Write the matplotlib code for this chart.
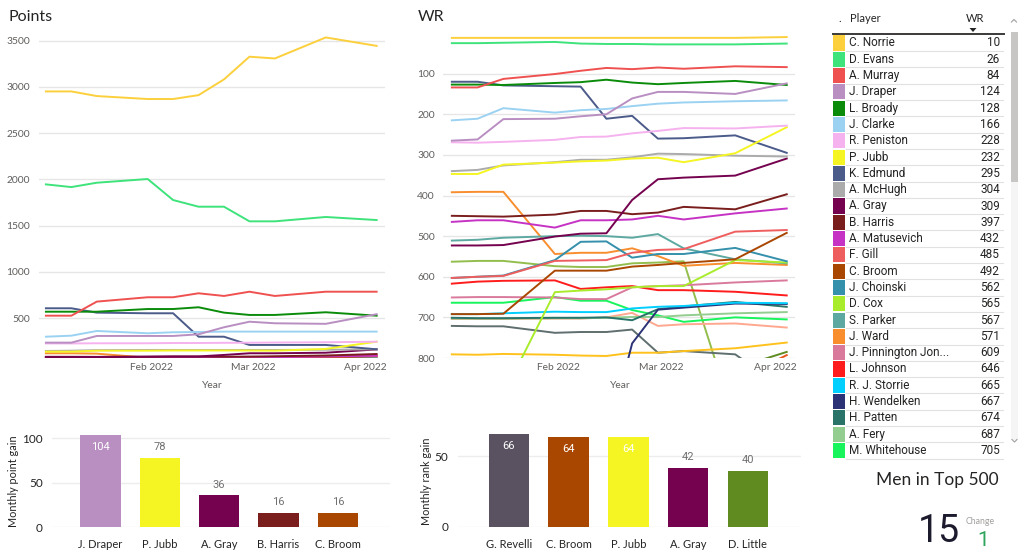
import matplotlib
matplotlib.use("Agg")
import matplotlib.pyplot as plt
import matplotlib.dates as mdates
from matplotlib.patches import Rectangle, Polygon
from matplotlib.ticker import MultipleLocator
import numpy as np
import pandas as pd

W, H = 1024, 559

# ranking release dates (Mondays, frozen weeks skipped)
dates = pd.to_datetime([
    "2022-01-03", "2022-01-10", "2022-01-17", "2022-01-31", "2022-02-07", "2022-02-14",
    "2022-02-21", "2022-02-28", "2022-03-07", "2022-03-21", "2022-04-04",
])

players = [
    "C. Norrie", "D. Evans", "A. Murray", "J. Draper", "L. Broady", "J. Clarke",
    "R. Peniston", "P. Jubb", "K. Edmund", "A. McHugh", "A. Gray", "B. Harris",
    "A. Matusevich", "F. Gill", "C. Broom", "J. Choinski", "D. Cox", "S. Parker",
    "J. Ward", "J. Pinnington Jones", "L. Johnson", "R. J. Storrie", "H. Wendelken",
    "H. Patten", "A. Fery", "M. Whitehouse",
]

player_colors = [
    "#FCD03C", "#3EE37B", "#EF5150", "#B98FC2", "#0A8C0A", "#9BD2F2",
    "#F5B2EE", "#F5F523", "#4B5B8A", "#ABABAB", "#75024E", "#7A1D1D",
    "#C633C4", "#EF5E5E", "#A94600", "#3590AB", "#A9EC2C", "#5DA9A1",
    "#F88E2E", "#D97A9D", "#FF1C1C", "#00CFFF", "#2C3276",
    "#2A7369", "#93CD90", "#18F55C",
]

wr_ranks = [
    [12, 12, 12, 12, 12, 12, 12, 12, 12, 12, 10],
    [25, 25, 24, 22, 26, 27, 27, 28, 28, 28, 26],
    [134, 134, 113, 101, 93, 86, 89, 85, 88, 82, 84],
    [265, 262, 212, 211, 205, 200, 161, 145, 145, 150, 124],
    [127, 127, 128, 123, 121, 115, 122, 126, 123, 118, 128],
    [215, 211, 185, 196, 190, 187, 180, 174, 171, 168, 166],
    [269, 270, 268, 263, 256, 255, 247, 241, 234, 235, 228],
    [347, 347, 324, 319, 316, 314, 309, 307, 318, 296, 232],
    [120, 120, 129, 131, 132, 211, 204, 260, 259, 252, 295],
    [340, 337, 326, 318, 312, 312, 306, 297, 298, 302, 304],
    [523, 523, 522, 501, 494, 493, 411, 360, 356, 351, 309],
    [450, 451, 452, 447, 438, 438, 446, 442, 428, 434, 397],
    [465, 461, 461, 479, 461, 461, 459, 450, 459, 444, 432],
    [603, 600, 598, 561, 560, 559, 541, 534, 532, 489, 485],
    [692, 692, 691, 585, 585, 585, 575, 571, 566, 557, 492],
    [603, 600, 597, 559, 514, 513, 553, 544, 544, 529, 562],
    [890, 890, 890, 638, 634, 631, 626, 623, 623, 559, 565],
    [511, 509, 504, 500, 499, 500, 504, 495, 530, 557, 567],
    [392, 391, 391, 544, 541, 541, 530, 549, 573, 566, 571],
    [651, 650, 650, 651, 655, 655, 626, 623, 621, 614, 609],
    [617, 612, 610, 609, 630, 626, 623, 633, 633, 637, 646],
    [692, 692, 690, 686, 687, 687, 678, 674, 672, 664, 665],
    [1010, 1010, 1010, 1010, 1010, 1010, 764, 681, 676, 666, 667],
    [701, 702, 702, 701, 701, 700, 707, 680, 673, 662, 674],
    [703, 703, 703, 702, 702, 701, 699, 699, 695, 690, 687],
    [664, 664, 664, 650, 659, 659, 682, 695, 711, 700, 705],
]

points = [
    [2950, 2950, 2900, 2868, 2868, 2910, 3080, 3325, 3306, 3533, 3442],
    [1946, 1917, 1964, 2004, 1777, 1705, 1705, 1547, 1547, 1594, 1561],
    [528, 528, 680, 727, 727, 770, 741, 787, 741, 787, 787],
    [237, 237, 309, 309, 309, 327, 403, 463, 446, 440, 544],
    [571, 571, 571, 600, 600, 619, 561, 536, 536, 565, 528],
    [301, 312, 363, 338, 349, 352, 356, 356, 356, 356, 356],
    [228, 228, 230, 230, 233, 233, 235, 236, 238, 241, 247],
    [140, 140, 150, 150, 152, 152, 152, 152, 150, 169, 247],
    [608, 608, 561, 554, 554, 301, 301, 212, 212, 212, 165],
    [147, 150, 156, 158, 158, 158, 158, 158, 158, 160, 165],
    [82, 82, 82, 86, 88, 88, 104, 122, 122, 128, 164],
    [84, 84, 83, 84, 86, 86, 85, 86, 90, 98, 114],
    [78, 80, 80, 74, 80, 80, 80, 84, 80, 88, 96],
    [66, 66, 66, 74, 74, 75, 78, 80, 81, 88, 90],
    [56, 56, 56, 68, 68, 68, 70, 71, 72, 76, 92],
    [66, 66, 66, 72, 80, 80, 72, 73, 73, 76, 68],
    [40, 40, 40, 60, 60, 61, 62, 62, 62, 66, 66],
    [80, 80, 80, 81, 82, 82, 80, 81, 76, 70, 66],
    [122, 122, 118, 74, 74, 74, 76, 72, 66, 68, 66],
    [60, 60, 60, 59, 58, 58, 62, 62, 62, 63, 64],
    [64, 65, 65, 65, 60, 61, 61, 59, 59, 58, 56],
    [55, 55, 55, 56, 56, 56, 57, 58, 58, 59, 59],
    [36, 36, 36, 36, 36, 36, 46, 57, 58, 59, 59],
    [54, 54, 54, 54, 54, 55, 53, 57, 58, 60, 58],
    [54, 54, 54, 54, 54, 54, 54, 54, 55, 56, 57],
    [62, 62, 62, 64, 62, 62, 58, 56, 52, 54, 53],
]

# players below the visible part of the table (WR chart only)
other_colors = ["#93BE4E", "#FFA88F", "#5F6E6E", "#FFC21C", "#5F8B21", "#E9561C"]
other_wr = [
    [563, 561, 561, 574, 576, 576, 567, 565, 562, 959, 985],
    [704, 704, 704, 703, 703, 700, 689, 721, 717, 715, 725],
    [721, 722, 722, 738, 736, 736, 730, 787, 783, 791, 880],
    [791, 792, 790, 792, 794, 795, 787, 787, 783, 776, 762],
    [860, 860, 860, 858, 856, 855, 850, 846, 843, 825, 785],
    [870, 870, 870, 868, 866, 865, 862, 858, 854, 854, 793],
]

point_gain_players = ["J. Draper", "P. Jubb", "A. Gray", "B. Harris", "C. Broom"]
point_gain = [104, 78, 36, 16, 16]
rank_gain_players = ["G. Revelli", "C. Broom", "P. Jubb", "A. Gray", "D. Little"]
rank_gain = [66, 64, 64, 42, 40]
extra_colors = {"G. Revelli": "#5A5260", "D. Little": "#5F8B21"}

TEXT = "#252423"
TICK = "#605E5C"
GRID = "#E6E6E6"
DIN = ["Roboto", "DejaVu Sans"]


def ax_at(fig, left, top, right, bottom):
    return fig.add_axes([left / W, 1 - bottom / H, (right - left) / W, (bottom - top) / H])


def style_line_axes(ax, pad_y):
    for s in ax.spines.values():
        s.set_visible(False)
    ax.tick_params(length=0, labelsize=7.4, labelcolor=TICK)
    ax.tick_params(axis="x", pad=3.5)
    ax.tick_params(axis="y", pad=pad_y)
    ax.yaxis.grid(True, color=GRID, lw=1)
    ax.set_axisbelow(True)
    ax.xaxis.set_major_locator(mdates.MonthLocator(bymonth=[2, 3, 4]))
    ax.xaxis.set_major_formatter(mdates.DateFormatter("%b %Y"))


def draw_bars(fig, ax, names, values, colors, top, xlim, ylabel, ylabel_x, pad_y):
    x = np.arange(len(names))
    ax.bar(x, values, width=0.68, color=colors, zorder=2)
    ax.set_xlim(*xlim)
    ax.set_ylim(0, top)
    ax.yaxis.set_major_locator(MultipleLocator(50))
    ax.set_xticks(x, names)
    for s in ax.spines.values():
        s.set_visible(False)
    ax.tick_params(length=0, labelcolor=TEXT)
    ax.tick_params(axis="x", labelsize=8, pad=9)
    ax.tick_params(axis="y", labelsize=8.5, pad=pad_y)
    ax.yaxis.grid(True, color="#EDEDED", lw=1)
    ax.set_axisbelow(True)
    for xi, v in zip(x, values):
        if v > 0.85 * top:
            ax.annotate(f"{v}", (xi, v), xytext=(0, -8.8), textcoords="offset points",
                        ha="center", va="center", fontsize=8, color="white", family=DIN)
        else:
            ax.annotate(f"{v}", (xi, v), xytext=(0, 7.5), textcoords="offset points",
                        ha="center", va="center", fontsize=8, color="#707070", family=DIN)
    fig.text(ylabel_x / W, 1 - 481 / H, ylabel, rotation=90, ha="center", va="center",
             fontsize=7.8, color=TEXT)


def main():
    plt.rcParams["font.family"] = ["Lato", "DejaVu Sans"]
    fig = plt.figure(figsize=(W / 100, H / 100), dpi=100)

    overlay = fig.add_axes([0, 0, 1, 1])
    overlay.set_xlim(0, W)
    overlay.set_ylim(H, 0)
    overlay.axis("off")

    # Points line chart
    ax_pts = ax_at(fig, 39, 33, 385, 358)
    for vals, col in zip(points[::-1], player_colors[::-1]):
        ax_pts.plot(dates, vals, color=col, lw=1.4)
    ax_pts.set_ylim(71, 3581)
    ax_pts.set_yticks(range(500, 3501, 500))
    ax_pts.set_xlim(dates[0] - pd.Timedelta(days=1.9), dates[-1] + pd.Timedelta(days=2.3))
    style_line_axes(ax_pts, 6.5)
    fig.text(8 / W, 1 - 17 / H, "Points", fontsize=11.5, color=TEXT, va="center")
    fig.text(212 / W, 1 - 385 / H, "Year", fontsize=7.4, color=TICK, ha="center", va="center")

    # WR line chart
    ax_wr = ax_at(fig, 443, 33, 795, 358)
    for vals, col in zip(other_wr, other_colors):
        ax_wr.plot(dates, vals, color=col, lw=1.4)
    for vals, col in zip(wr_ranks[::-1], player_colors[::-1]):
        ax_wr.plot(dates, vals, color=col, lw=1.4)
    ax_wr.set_ylim(800, 0)
    ax_wr.set_yticks(range(100, 801, 100))
    ax_wr.set_xlim(dates[0] - pd.Timedelta(days=2.4), dates[-1] + pd.Timedelta(days=2.25))
    style_line_axes(ax_wr, 5.8)
    fig.text(418 / W, 1 - 17 / H, "WR", fontsize=11.5, color=TEXT, va="center")
    fig.text(620 / W, 1 - 385 / H, "Year", fontsize=7.4, color=TICK, ha="center", va="center")

    # bar charts
    color_of = dict(zip(players, player_colors))
    color_of.update(extra_colors)
    ax_pg = ax_at(fig, 52, 434.7, 390, 527)
    draw_bars(fig, ax_pg, point_gain_players, point_gain,
              [color_of[p] for p in point_gain_players], 104, (-0.82, 4.88),
              "Monthly point gain", 14, 6.5)
    ax_rg = ax_at(fig, 458, 434, 801, 526.7)
    draw_bars(fig, ax_rg, rank_gain_players, rank_gain,
              [color_of[p] for p in rank_gain_players], 66, (-0.854, 4.89),
              "Monthly rank gain", 426, 7)

    # table of current rankings
    order = sorted(range(len(players)), key=lambda i: wr_ranks[i][-1])
    row_h = 16.3
    overlay.text(838, 19, ".", fontsize=8, color=TEXT, va="center")
    overlay.text(850, 19, "Player", fontsize=8, color=TEXT, va="center")
    overlay.text(966, 19, "WR", fontsize=8, color=TEXT, va="center")
    overlay.add_patch(Polygon([(969.5, 28), (976.5, 28), (973, 32)], closed=True,
                              color="#252423", lw=0))
    overlay.plot([833, 1004], [33.5, 33.5], color="#3B3A39", lw=1.4)
    overlay.add_patch(Rectangle((1010.5, 31.5), 7.5, 408, color="#F5F5F5", lw=0))
    overlay.add_patch(Rectangle((1011, 31.7), 6.8, 150, color="#C8C6C4", lw=0))
    overlay.plot([1011.5, 1014, 1016.5], [22, 19.5, 22], color="#A19F9D", lw=0.8)
    overlay.plot([1012, 1014.5, 1017], [439.5, 442, 439.5], color="#A19F9D", lw=0.8)
    for row, i in enumerate(order):
        cy = 43 + row * row_h
        overlay.add_patch(Rectangle((833, cy - row_h / 2 + 0.6), 12, row_h - 1.2,
                                    color=player_colors[i], lw=0))
        name = players[i]
        if len(name) > 18:
            name = name[:17] + "..."
        overlay.text(849, cy, name, fontsize=8.5, color=TEXT, va="center", family=DIN)
        overlay.text(1000, cy, f"{wr_ranks[i][-1]}", fontsize=8.5, color=TEXT,
                     va="center", ha="right", family=DIN)
        overlay.plot([846, 1003], [cy + row_h / 2, cy + row_h / 2], color="#E1E1E1", lw=0.8)

    # card: men in top 500
    now = sum(r[-1] <= 500 for r in wr_ranks)
    before = sum(r[-2] <= 500 for r in wr_ranks)
    overlay.text(999, 480, "Men in Top 500", fontsize=12.5, color=TEXT, ha="right", va="center")
    overlay.text(960, 531, f"{now}", fontsize=27, color="#1C1B2E", ha="right", va="center",
                 family=DIN)
    overlay.text(966, 521.5, "Change", fontsize=6.3, color="#A19F9D", ha="left", va="center")
    overlay.text(983.5, 541, f"{now - before}", fontsize=15, color="#2FA45C", ha="center",
                 va="center", family=DIN)

    fig.savefig("out.png", dpi=100)
    plt.close(fig)


if __name__ == "__main__":
    main()
